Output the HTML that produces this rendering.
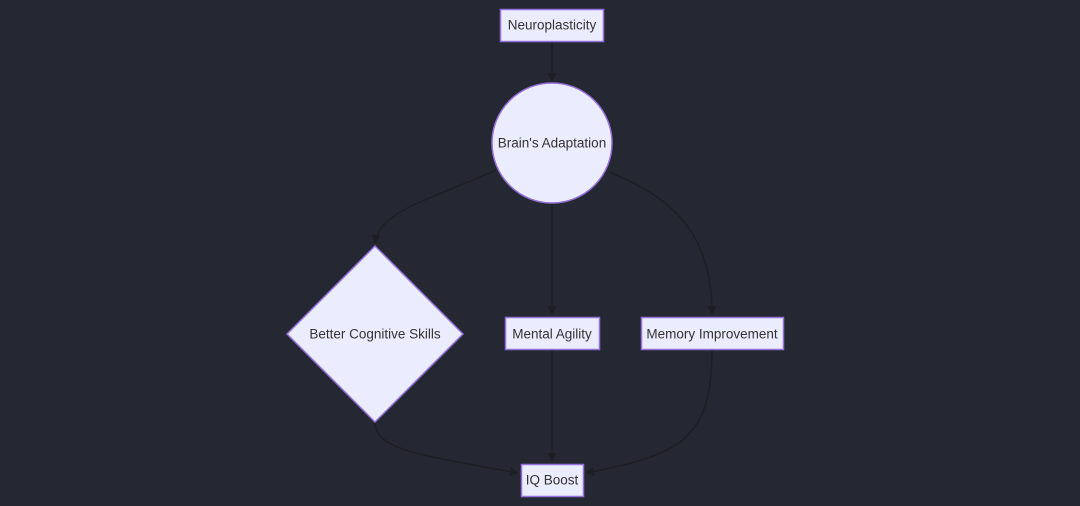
<!DOCTYPE html>
<html><head><style>
body{margin:0;background:#252833;}
svg{display:block}
text{font-family:"Liberation Sans",sans-serif;font-size:13.5px;fill:#333;text-anchor:middle;dominant-baseline:central}
</style></head><body>
<svg width="1080" height="506" viewBox="0 0 1080 506">
<defs><marker id="a" viewBox="0 0 10 10" refX="9" refY="5" markerWidth="6" markerHeight="6" orient="auto"><path d="M0,0L10,5L0,10z" fill="#1e1f24"/></marker></defs>
<g fill="none" stroke="#1e1f24" stroke-width="1.5">
<path d="M552,42V81" marker-end="url(#a)"/>
<path d="M552,203V314" marker-end="url(#a)"/>
<path d="M496,170C430,200 380,210 375,243" marker-end="url(#a)"/>
<path d="M609,172C680,200 712,240 712,314" marker-end="url(#a)"/>
<path d="M552,350V461" marker-end="url(#a)"/>
<path d="M375,422C375,450 420,455 518,473" marker-end="url(#a)"/>
<path d="M712,350C712,440 680,455 586,473" marker-end="url(#a)"/>
</g>
<g fill="#ececff" stroke="#9370db" stroke-width="1.5">
<rect x="500.5" y="9.5" width="103" height="32"/>
<circle cx="552" cy="143" r="60"/>
<polygon points="375,246 463,334 375,422 287,334"/>
<rect x="505.5" y="317.5" width="94" height="32"/>
<rect x="641.5" y="317.5" width="142" height="32"/>
<rect x="521.5" y="464.5" width="62" height="32"/>
</g>
<text x="552" y="25">Neuroplasticity</text>
<text x="552" y="143">Brain's Adaptation</text>
<text x="375" y="334">Better Cognitive Skills</text>
<text x="552" y="334">Mental Agility</text>
<text x="712" y="334">Memory Improvement</text>
<text x="552" y="480">IQ Boost</text>
</svg>
</body></html>
